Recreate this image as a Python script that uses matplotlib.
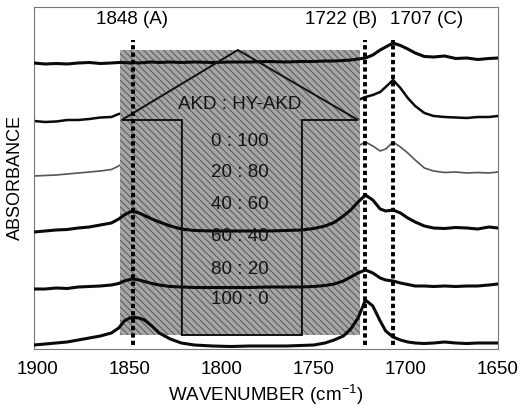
import matplotlib
matplotlib.use("Agg")
import matplotlib.pyplot as plt
from matplotlib.patches import Rectangle, Polygon

plt.rcParams["font.family"] = ["Liberation Sans", "DejaVu Sans"]
plt.rcParams["mathtext.fontset"] = "custom"
plt.rcParams["mathtext.rm"] = "Liberation Sans"
plt.rcParams["mathtext.default"] = "rm"
plt.rcParams["hatch.linewidth"] = 0.8

# ── Data (stacked with offsets) ──────────────────────────────────────────────
wavenumber = [1902, 1896, 1890, 1884, 1878, 1872, 1866, 1860, 1856, 1853,
              1850, 1848, 1845, 1842, 1838, 1834, 1828, 1822, 1815, 1805,
              1795, 1785, 1775, 1765, 1757, 1750, 1744, 1739, 1734, 1730,
              1726, 1722, 1718, 1714, 1711, 1707, 1703, 1699, 1695, 1690,
              1685, 1679, 1673, 1667, 1661, 1655, 1650]

ratio_0_100 = [2.86, 2.85, 2.855, 2.85, 2.86, 2.865, 2.855, 2.86, 2.865, 2.865,
               2.86, 2.865, 2.86, 2.865, 2.87, 2.865, 2.87, 2.865, 2.87, 2.865,
               2.87, 2.87, 2.875, 2.87, 2.875, 2.875, 2.88, 2.88, 2.885, 2.89,
               2.90, 2.91, 2.94, 2.99, 3.02, 3.06, 3.035, 3.00, 2.96, 2.925,
               2.92, 2.93, 2.905, 2.91, 2.895, 2.905, 2.91]

ratio_20_80 = [2.28, 2.27, 2.275, 2.29, 2.29, 2.30, 2.315, 2.32, 2.35, 2.36,
               2.37, 2.37, 2.36, 2.35, 2.33, 2.32, 2.31, 2.31, 2.305, 2.31,
               2.305, 2.31, 2.31, 2.315, 2.32, 2.33, 2.35, 2.38, 2.41, 2.45,
               2.49, 2.52, 2.54, 2.57, 2.62, 2.69, 2.61, 2.51, 2.43, 2.36,
               2.33, 2.32, 2.315, 2.31, 2.32, 2.32, 2.33]

ratio_40_60 = [1.73, 1.735, 1.74, 1.75, 1.76, 1.77, 1.78, 1.795, 1.83, 1.87,
               1.89, 1.89, 1.88, 1.86, 1.83, 1.81, 1.79, 1.78, 1.78, 1.78,
               1.78, 1.78, 1.785, 1.79, 1.80, 1.82, 1.85, 1.89, 1.94, 1.99,
               2.03, 2.07, 2.03, 1.98, 2.00, 2.07, 2.02, 1.96, 1.89, 1.81,
               1.78, 1.765, 1.77, 1.76, 1.765, 1.76, 1.77]

ratio_60_40 = [1.17, 1.18, 1.19, 1.195, 1.21, 1.22, 1.24, 1.26, 1.30, 1.34,
               1.37, 1.375, 1.36, 1.335, 1.30, 1.27, 1.23, 1.20, 1.185, 1.18,
               1.18, 1.18, 1.18, 1.185, 1.19, 1.205, 1.23, 1.265, 1.33, 1.39,
               1.47, 1.54, 1.49, 1.40, 1.38, 1.39, 1.36, 1.31, 1.27, 1.23,
               1.21, 1.205, 1.215, 1.21, 1.20, 1.22, 1.21]

ratio_80_20 = [0.60, 0.60, 0.61, 0.605, 0.62, 0.625, 0.63, 0.64, 0.655, 0.68,
               0.695, 0.70, 0.69, 0.675, 0.655, 0.64, 0.625, 0.62, 0.615, 0.615,
               0.615, 0.615, 0.62, 0.62, 0.62, 0.625, 0.635, 0.65, 0.68, 0.72,
               0.76, 0.79, 0.76, 0.71, 0.69, 0.68, 0.66, 0.645, 0.63, 0.63,
               0.625, 0.63, 0.625, 0.63, 0.63, 0.64, 0.65]

ratio_100_0 = [0.04, 0.05, 0.06, 0.07, 0.09, 0.11, 0.13, 0.16, 0.21, 0.28,
               0.31, 0.315, 0.31, 0.29, 0.23, 0.16, 0.10, 0.06, 0.04, 0.03,
               0.025, 0.03, 0.03, 0.03, 0.035, 0.04, 0.06, 0.09, 0.13, 0.20,
               0.31, 0.49, 0.43, 0.28, 0.18, 0.12, 0.09, 0.07, 0.06, 0.055,
               0.06, 0.07, 0.06, 0.055, 0.06, 0.06, 0.06]

peak_pos = [1848, 1722, 1707]
peak_labels = ["1848 (A)", "1722 (B)", "1707 (C)"]
ratio_labels = ["0 : 100", "20 : 80", "40 : 60", "60 : 40", "80 : 20", "100 : 0"]
x_ticks = [1900, 1850, 1800, 1750, 1700, 1650]

# ── Canvas ────────────────────────────────────────────────────────────────────
fig = plt.figure(figsize=(5.25, 4.09), dpi=100)
ax = fig.add_axes([0.0648, 0.1467, 0.8838, 0.8362])
ax.set_xlim(1902, 1650)
ax.set_ylim(0, 3.42)

# shaded band + arrow graphic
band = Rectangle((1724.9, 0.14), 1855.1 - 1724.9, 2.99 - 0.14,
                 facecolor="#a6a6a6", edgecolor="#5e5e5e", linewidth=0,
                 hatch="\\\\\\\\\\", zorder=2)
ax.add_patch(band)
arrow = Polygon([(1854.4, 2.29), (1821.7, 2.29), (1821.7, 0.14),
                 (1756.5, 0.14), (1756.5, 2.29), (1726.0, 2.29),
                 (1791.3, 2.99)], closed=True, fill=False,
                edgecolor="#111111", linewidth=1.4, zorder=4)
ax.add_patch(arrow)

# spectra
thick = dict(color="#0a0a0a", linewidth=2.2, solid_joinstyle="round", zorder=3)
ax.plot(wavenumber, ratio_0_100, **thick)
ax.plot(wavenumber, ratio_20_80, color="#0a0a0a", linewidth=1.8, zorder=1)
ax.plot(wavenumber, ratio_40_60, color="#555555", linewidth=1.2, zorder=1)
ax.plot(wavenumber, ratio_60_40, **thick)
ax.plot(wavenumber, ratio_80_20, **thick)
ax.plot(wavenumber, ratio_100_0, **thick)

# peak markers
ax.vlines(peak_pos, 0.04, 3.09, colors="#000000", linewidth=2.8,
          linestyles=(0, (1.1, 0.8)), zorder=5)
label_x = [1849, 1735, 1689]
for lx, txt in zip(label_x, peak_labels):
    ax.text(lx, 3.29, txt, ha="center", va="center", fontsize=13.5, zorder=6)

# arrow labels
ax.text(1790.2, 2.44, "AKD : HY-AKD", ha="center", va="center",
        fontsize=13.5, color="#151515", zorder=6)
for y, txt in zip([2.07, 1.76, 1.44, 1.12, 0.79, 0.49], ratio_labels):
    ax.text(1790.2, y, txt, ha="center", va="center",
            fontsize=13.5, color="#151515", zorder=6)

# axes styling
ax.set_xticks(x_ticks)
ax.set_yticks([])
ax.tick_params(axis="x", length=0, pad=9, labelsize=13.5)
for s in ax.spines.values():
    s.set_color("#777777")
    s.set_linewidth(0.8)
    s.set_linestyle((0, (2, 1)))
ax.set_xlabel("WAVENUMBER (cm$^{-1}$)", fontsize=13.5, labelpad=3)
ax.set_ylabel("ABSORBANCE", fontsize=13, labelpad=7)

fig.savefig("out.png", dpi=100, facecolor="white")
